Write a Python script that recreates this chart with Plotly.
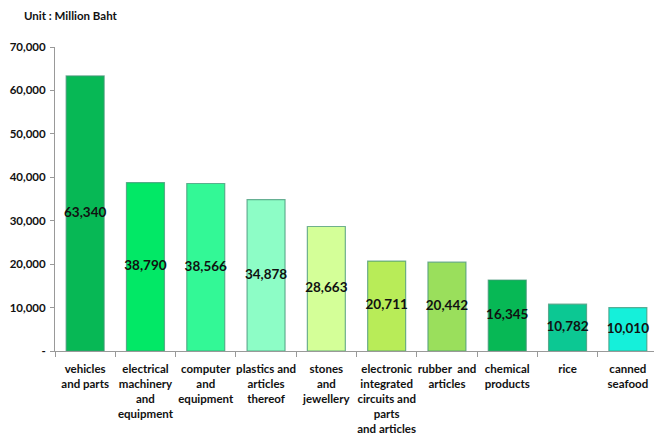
import plotly.graph_objects as go

categories = ["vehicles and parts", "electrical machinery and equipment", "computer and equipment",
              "plastics and articles thereof", "stones and jewellery",
              "electronic integrated circuits and parts and articles", "rubber and articles",
              "chemical products", "rice", "canned seafood"]
tick_labels = ["vehicles<br>and parts", "electrical<br>machinery<br>and<br>equipment",
               "computer<br>and<br>equipment", "plastics and<br>articles<br>thereof",
               "stones<br>and<br>jewellery",
               "electronic<br>integrated<br>circuits and<br>parts<br>and articles",
               "rubber  and<br>articles", "chemical<br>products", "rice", "canned<br>seafood"]
values = [63340, 38790, 38566, 34878, 28663, 20711, 20442, 16345, 10782, 10010]
colors = ["#07B855", "#02E866", "#33F896", "#8DFDC6", "#D4FF98",
          "#B8EC58", "#9ADF5C", "#07B855", "#0CC893", "#15F0DA"]
y_ticks = [0, 10000, 20000, 30000, 40000, 50000, 60000, 70000]
y_ticktext = ["-", "10,000", "20,000", "30,000", "40,000", "50,000", "60,000", "70,000"]

font_family = "Lato"

fig = go.Figure()
fig.add_trace(go.Bar(
    x=categories, y=values,
    marker=dict(color=colors, line=dict(color="rgba(70,150,120,0.75)", width=1.2)),
    width=0.63, hoverinfo="skip", showlegend=False,
))
fig.add_trace(go.Scatter(
    x=categories, y=[v / 2 for v in values],
    mode="text", text=[f"{v:,}" for v in values],
    textfont=dict(family=font_family, size=13.5, color="#111", weight="bold"),
    cliponaxis=False, hoverinfo="skip", showlegend=False,
))

fig.update_layout(
    width=654, height=427,
    margin=dict(l=47, r=4, t=39, b=84),
    plot_bgcolor="white", paper_bgcolor="white",
    font=dict(family=font_family, size=12, color="#111", weight="bold"),
    annotations=[dict(text="Unit : Million Baht", xref="paper", yref="paper",
                      x=-0.055, y=1.105, xanchor="left", yanchor="middle",
                      showarrow=False, font=dict(family=font_family, size=11.5, weight="bold"))],
)
fig.update_xaxes(
    type="category", range=[-0.5, 9.5], automargin=False,
    tickmode="array", tickvals=categories, ticktext=tick_labels, tickangle=0,
    tickson="boundaries", ticks="outside", ticklen=5, tickcolor="#999",
    ticklabelstandoff=7,
    showline=True, linecolor="#999", linewidth=1,
    showgrid=False, tickfont=dict(family=font_family, size=11.5, weight="bold"),
)
fig.update_yaxes(
    range=[0, 70000], tickmode="array", tickvals=y_ticks, ticktext=y_ticktext,
    automargin=False,
    ticks="outside", ticklen=4, tickcolor="#999", ticklabelstandoff=2,
    showline=True, linecolor="#999", linewidth=1,
    showgrid=False, zeroline=False,
    tickfont=dict(family=font_family, size=11.5, weight="bold"),
)

fig.write_html("out.html")
